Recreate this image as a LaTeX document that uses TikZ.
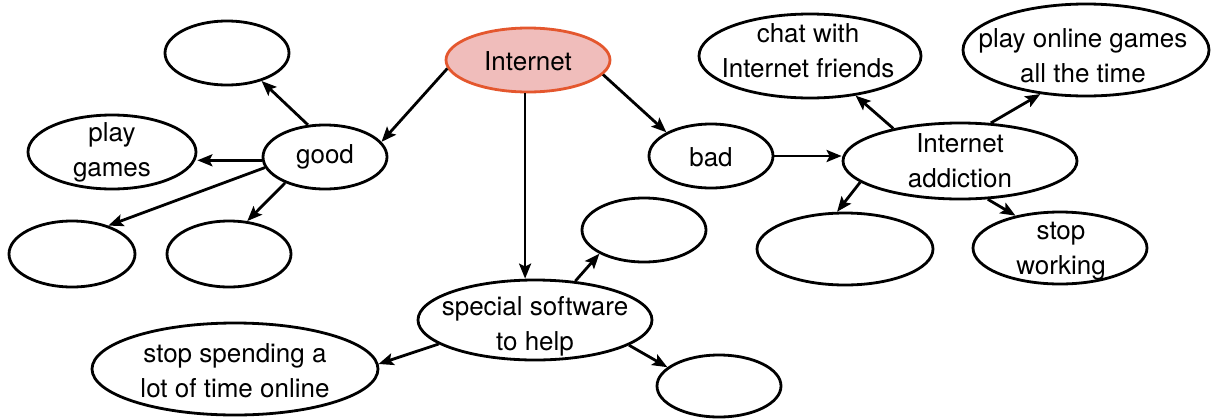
\documentclass[tikz,border=0pt]{standalone}
\usepackage{fontspec}
\setmainfont{TeX Gyre Heros}
\usetikzlibrary{arrows.meta,shapes.geometric}
\definecolor{netfill}{HTML}{F0BDBB}
\definecolor{netline}{HTML}{E4572E}
\tikzset{
  bub/.style={ellipse, draw=black, line width=2.8pt, inner sep=0pt},
  txt/.style={inner sep=0pt, align=center, font=\fontsize{26}{35}\selectfont},
  arr/.style={line width=2.8pt, -{Stealth[length=15pt,width=12pt,inset=3pt]}},
}
\begin{document}
\begin{tikzpicture}[x=1pt,y=-1pt]
\path[use as bounding box] (0,0) rectangle (1212,418);
% ellipses
\node[bub, fill=netfill, draw=netline, minimum width=164pt, minimum height=64pt] (internet) at (528,60) {};
\node[bub, minimum width=124pt, minimum height=64pt] (tl) at (227,53) {};
\node[bub, minimum width=168pt, minimum height=74pt] (play) at (112,152) {};
\node[bub, minimum width=124pt, minimum height=64pt] (good) at (325,157) {};
\node[bub, minimum width=126pt, minimum height=66pt] (bl) at (72,254) {};
\node[bub, minimum width=124pt, minimum height=66pt] (btwo) at (229,254) {};
\node[bub, minimum width=234pt, minimum height=80pt] (soft) at (535,320) {};
\node[bub, minimum width=124pt, minimum height=64pt] (softtop) at (644,230) {};
\node[bub, minimum width=124pt, minimum height=62pt] (softbr) at (719,386) {};
\node[bub, minimum width=286pt, minimum height=92pt] (stopsp) at (235,369) {};
\node[bub, minimum width=124pt, minimum height=64pt] (bad) at (711,156) {};
\node[bub, minimum width=234pt, minimum height=76pt] (ia) at (960,161) {};
\node[bub, minimum width=222pt, minimum height=84pt] (chat) at (810,56) {};
\node[bub, minimum width=246pt, minimum height=92pt] (playon) at (1086,50) {};
\node[bub, minimum width=176pt, minimum height=72pt] (iab) at (845,249) {};
\node[bub, minimum width=174pt, minimum height=72pt] (stopw) at (1060,248) {};
% texts
\node[txt] (internettext) at (528,61) {Internet};
\node[txt] (playtext) at (112,152) {play\\games};
\node[txt] (goodtext) at (325,157) {good};
\node[txt] (softtext) at (535,326) {special software\\to help};
\node[txt] (stopsptext) at (235,371) {stop spending a\\lot of time online};
\node[txt] (badtext) at (711,157) {bad};
\node[txt] (iatext) at (960,161) {Internet\\addiction};
\node[txt] (chattext) at (808,51) {chat with\\Internet friends};
\node[txt] (playontext) at (1083,56) {play online games\\all the time};
\node[txt] (stopwtext) at (1061,251) {stop\\working};
% connectors
\draw[arr] (internet.186) -- (good.15);
\draw[arr] (internet.265) -- (internet.265 |- soft.north);
\draw[arr] (internet.349) -- (bad.152);
\draw[arr] (good.118) -- (tl.321);
\draw[arr] (good.183) -- (good.183 -| play.east);
\draw[arr] (good.190) -- (bl.38);
\draw[arr] (good.213) -- (btwo.61);
\draw[arr] (bad.east) -- (bad.east -| ia.west);
\draw[arr] (ia.154) -- (chat.319);
\draw[arr] (ia.51) -- (playon.224);
\draw[arr] (ia.192) -- (iab.102);
\draw[arr] (ia.306) -- (stopw.144);
\draw[arr] (soft.44) -- (softtop.208);
\draw[arr] (soft.345) -- (softbr.160);
\draw[arr] (soft.194) -- (stopsp.2);
\end{tikzpicture}
\end{document}
